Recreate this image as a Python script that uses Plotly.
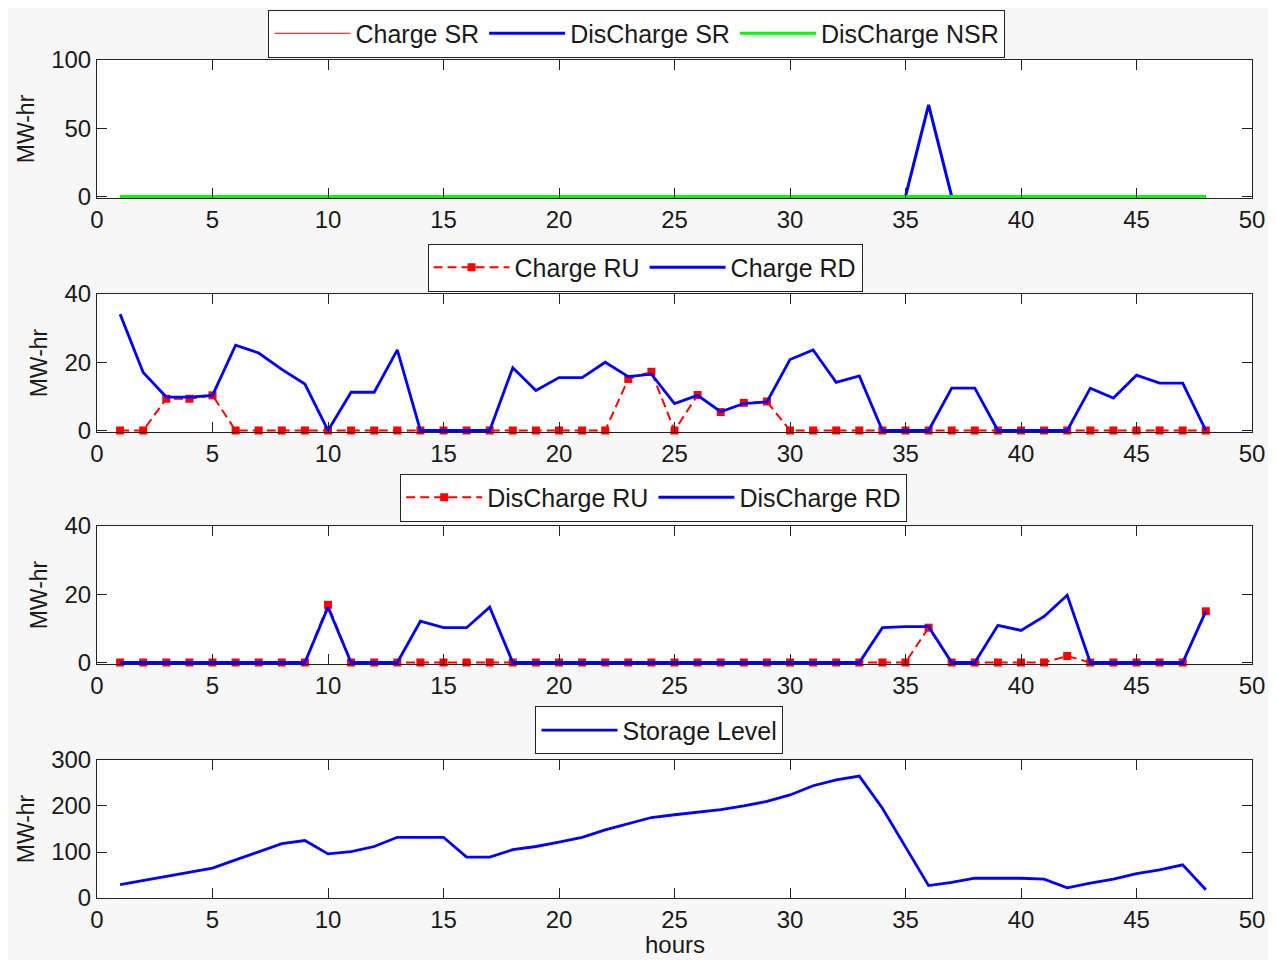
import plotly.graph_objects as go

hours = [1, 2, 3, 4, 5, 6, 7, 8, 9, 10, 11, 12, 13, 14, 15, 16, 17, 18, 19, 20, 21, 22, 23, 24,
         25, 26, 27, 28, 29, 30, 31, 32, 33, 34, 35, 36, 37, 38, 39, 40, 41, 42, 43, 44, 45, 46, 47, 48]

charge_sr = [0, 0, 0, 0, 0, 0, 0, 0, 0, 0, 0, 0, 0, 0, 0, 0, 0, 0, 0, 0, 0, 0, 0, 0,
             0, 0, 0, 0, 0, 0, 0, 0, 0, 0, 0, 0, 0, 0, 0, 0, 0, 0, 0, 0, 0, 0, 0, 0]
discharge_sr = [0, 0, 0, 0, 0, 0, 0, 0, 0, 0, 0, 0, 0, 0, 0, 0, 0, 0, 0, 0, 0, 0, 0, 0,
                0, 0, 0, 0, 0, 0, 0, 0, 0, 0, 0, 67, 0, 0, 0, 0, 0, 0, 0, 0, 0, 0, 0, 0]
discharge_nsr = [0, 0, 0, 0, 0, 0, 0, 0, 0, 0, 0, 0, 0, 0, 0, 0, 0, 0, 0, 0, 0, 0, 0, 0,
                 0, 0, 0, 0, 0, 0, 0, 0, 0, 0, 0, 0, 0, 0, 0, 0, 0, 0, 0, 0, 0, 0, 0, 0]

charge_ru = [0, 0, 9.3, 9.3, 10.3, 0, 0, 0, 0, 0, 0, 0, 0, 0, 0, 0, 0, 0, 0, 0, 0, 0, 15.1, 17.2,
             0, 10.4, 5.4, 8.1, 8.5, 0, 0, 0, 0, 0, 0, 0, 0, 0, 0, 0, 0, 0, 0, 0, 0, 0, 0, 0]
charge_rd = [34.1, 17, 9.8, 9.8, 10.3, 25, 22.7, 17.9, 13.6, 0, 11.2, 11.2, 23.6, 0, 0, 0, 0, 18.4,
             11.7, 15.5, 15.5, 20, 15.8, 16.5, 7.9, 10.3, 5.5, 7.9, 8.4, 20.8, 23.6, 14.1, 16, 0,
             0, 0, 12.4, 12.4, 0, 0, 0, 0, 12.4, 9.5, 16.2, 13.9, 13.9, 0]

discharge_ru = [0, 0, 0, 0, 0, 0, 0, 0, 0, 16.9, 0, 0, 0, 0, 0, 0, 0, 0, 0, 0, 0, 0, 0, 0,
                0, 0, 0, 0, 0, 0, 0, 0, 0, 0, 0, 10.2, 0, 0, 0, 0, 0, 1.9, 0, 0, 0, 0, 0, 15]
discharge_rd = [0, 0, 0, 0, 0, 0, 0, 0, 0, 16.2, 0, 0, 0, 12.1, 10.2, 10.2, 16.2, 0, 0, 0, 0, 0, 0, 0,
                0, 0, 0, 0, 0, 0, 0, 0, 0, 10.2, 10.5, 10.5, 0, 0, 10.9, 9.4, 13.5, 19.7, 0, 0, 0, 0, 0, 15]

storage_level = [29, 38, 47, 55.7, 65, 83, 101, 118, 125, 96, 101, 112, 132, 132, 132, 89, 89, 105,
                 112, 121.5, 132, 148, 161, 175, 181, 186, 192, 200, 210, 224, 244, 257, 265, 195,
                 112, 27, 34, 43, 43, 43, 41, 22, 32.5, 41, 53, 61, 72, 18]

x_ticks = [0, 5, 10, 15, 20, 25, 30, 35, 40, 45, 50]
y_ticks_1 = [0, 50, 100]
y_ticks_2 = [0, 20, 40]
y_ticks_3 = [0, 20, 40]
y_ticks_4 = [0, 100, 200, 300]

FONT = "Liberation Sans, Arial, sans-serif"
TXT = "#1a1a1a"
RED = "#ff0000"
BLUE = "#0000ff"
GREEN = "#00ff00"

fig = go.Figure()

# subplot 1
fig.add_trace(go.Scatter(x=hours, y=charge_sr, mode="lines", name="Charge SR",
                         line=dict(color=RED, width=1), xaxis="x", yaxis="y", legend="legend"))
fig.add_trace(go.Scatter(x=hours, y=discharge_sr, mode="lines", name="DisCharge SR",
                         line=dict(color=BLUE, width=3), xaxis="x", yaxis="y", legend="legend"))
fig.add_trace(go.Scatter(x=hours, y=discharge_nsr, mode="lines", name="DisCharge NSR",
                         line=dict(color=GREEN, width=3), xaxis="x", yaxis="y", legend="legend"))
# subplot 2
fig.add_trace(go.Scatter(x=hours, y=charge_ru, mode="lines+markers", name="Charge RU",
                         line=dict(color=RED, width=2, dash="9px,5px"), cliponaxis=False,
                         marker=dict(symbol="square", size=8, color=RED),
                         xaxis="x2", yaxis="y2", legend="legend2"))
fig.add_trace(go.Scatter(x=hours, y=charge_rd, mode="lines", name="Charge RD",
                         line=dict(color=BLUE, width=2.8), xaxis="x2", yaxis="y2", legend="legend2"))
# subplot 3
fig.add_trace(go.Scatter(x=hours, y=discharge_ru, mode="lines+markers", name="DisCharge RU",
                         line=dict(color=RED, width=2, dash="9px,5px"), cliponaxis=False,
                         marker=dict(symbol="square", size=8, color=RED),
                         xaxis="x3", yaxis="y3", legend="legend3"))
fig.add_trace(go.Scatter(x=hours, y=discharge_rd, mode="lines", name="DisCharge RD",
                         line=dict(color=BLUE, width=2.8), xaxis="x3", yaxis="y3", legend="legend3"))
# subplot 4
fig.add_trace(go.Scatter(x=hours, y=storage_level, mode="lines", name="Storage Level",
                         line=dict(color=BLUE, width=2.8), xaxis="x4", yaxis="y4", legend="legend4"))

axis_common = dict(showline=True, linecolor="#222", linewidth=1, mirror="ticks", ticks="inside",
                   ticklen=10, tickcolor="#222", tickwidth=1, showgrid=False, zeroline=False,
                   automargin=False, ticklabeloverflow="allow",
                   tickfont=dict(family=FONT, size=24, color=TXT))

# the page adds an 8px body margin; domains account for it
domains = {1: [0.8004, 0.9454], 2: [0.5546, 0.6996], 3: [0.3109, 0.4559], 4: [0.0651, 0.2101]}
yt = {1: (y_ticks_1, [-1.2, 100]), 2: (y_ticks_2, [-0.45, 40]),
      3: (y_ticks_3, [-0.45, 40]), 4: (y_ticks_4, [0, 300])}

layout = dict(width=1268, height=952, paper_bgcolor="#f7f7f7", plot_bgcolor="#ffffff",
              margin=dict(l=89, r=24, t=0, b=0, autoexpand=False), showlegend=True)
for i in range(1, 5):
    xs = "" if i == 1 else str(i)
    layout["xaxis" + xs] = dict(axis_common, domain=[0, 1], range=[0, 50], tickvals=x_ticks,
                                anchor="y" + xs)
    layout["yaxis" + xs] = dict(axis_common, domain=domains[i], range=yt[i][1], tickvals=yt[i][0],
                                anchor="x" + xs,
                                title=dict(text="MW-hr", standoff=10,
                                           font=dict(family=FONT, size=23, color=TXT)))

leg_common = dict(orientation="h", xanchor="center", yanchor="middle", bgcolor="#ffffff",
                  bordercolor="#222", borderwidth=1, font=dict(family=FONT, size=25, color=TXT),
                  itemwidth=76)
layout["legend"] = dict(leg_common, x=0.4675, y=0.9732)
layout["legend2"] = dict(leg_common, x=0.4745, y=0.7274)
layout["legend3"] = dict(leg_common, x=0.482, y=0.4858)
layout["legend4"] = dict(leg_common, x=0.487, y=0.2411)

layout["annotations"] = [dict(text="hours", xref="paper", yref="paper", x=0.5, y=0,
                              xanchor="center", yanchor="bottom", showarrow=False,
                              font=dict(family=FONT, size=24, color=TXT))]

fig.update_layout(**layout)
fig.write_html("out.html")
